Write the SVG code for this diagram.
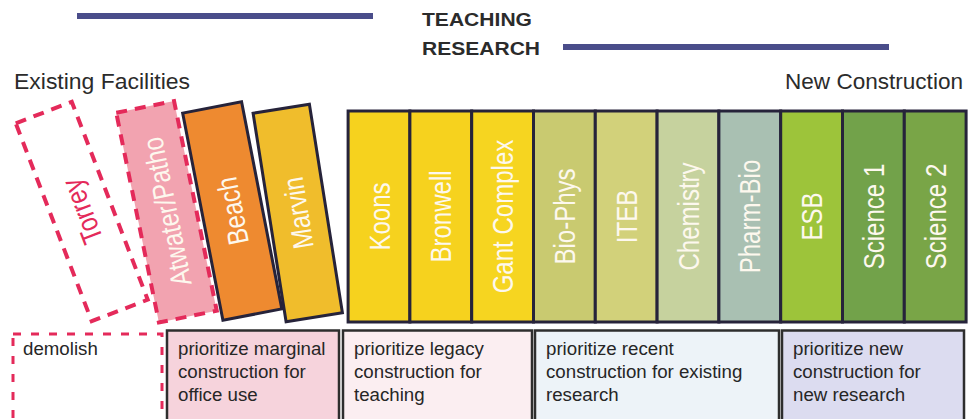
<svg xmlns="http://www.w3.org/2000/svg" width="973" height="419" viewBox="0 0 973 419">
  <style>
    .head { font-family: "Liberation Sans", Arial, sans-serif; font-weight: bold; font-size: 19px; fill: #2b2b2b; }
    .side { font-family: "Liberation Sans", Arial, sans-serif; font-size: 22px; fill: #2b2b2b; }
    .bar { fill: #4a4d8a; }
    .bld { stroke: #26233a; stroke-width: 3; }
    .lbl { font-family: "Liberation Sans", Arial, sans-serif; font-size: 29px; fill: #fdf8ee; text-anchor: middle; }
    .dash { fill: none; stroke: #e42a5a; stroke-width: 4; stroke-dasharray: 11 8; }
    .note { stroke: #2e2e2e; stroke-width: 2.5; }
    .ntxt { font-family: "Liberation Sans", Arial, sans-serif; font-size: 18.7px; fill: #262626; }
  </style>

  <rect width="973" height="419" fill="#ffffff"/>

  <!-- legend: teaching / research bars -->
  <g id="legend">
    <rect class="bar" x="77" y="13" width="296" height="6"/>
    <text class="head" x="422" y="26" textLength="110" lengthAdjust="spacingAndGlyphs">TEACHING</text>
    <text class="head" x="422" y="55" textLength="118" lengthAdjust="spacingAndGlyphs">RESEARCH</text>
    <rect class="bar" x="563" y="44" width="326" height="6"/>
  </g>

  <text class="side" x="14" y="89" textLength="176" lengthAdjust="spacingAndGlyphs">Existing Facilities</text>
  <text class="side" x="785" y="89" textLength="178" lengthAdjust="spacingAndGlyphs">New Construction</text>

  <!-- existing facilities, tilted -->
  <g id="torrey" transform="translate(81.75,211.5) rotate(-21)">
    <rect class="dash" x="-30" y="-106" width="60" height="212"/>
    <text class="lbl" transform="rotate(-90) scale(0.83,1)" y="10.5" style="fill:#e42a5a">Torrey</text>
  </g>
  <g id="atwater" transform="translate(166.5,211.75) rotate(-11.5)">
    <rect x="-29.5" y="-107" width="59" height="214" fill="#f2a3b0"/>
    <rect class="dash" x="-29.5" y="-107" width="59" height="214"/>
    <text class="lbl" transform="rotate(-90) scale(0.83,1)" y="10.5">Atwater/Patho</text>
  </g>
  <g id="beach" transform="translate(232.25,211) rotate(-11)">
    <rect class="bld" x="-30" y="-105.5" width="60" height="211" fill="#ee8a30"/>
    <text class="lbl" transform="rotate(-90) scale(0.83,1)" y="10.5">Beach</text>
  </g>
  <g id="marvin" transform="translate(297.75,213) rotate(-9)">
    <rect class="bld" x="-28.5" y="-105.5" width="57" height="211" fill="#f0bd2c"/>
    <text class="lbl" transform="rotate(-90) scale(0.83,1)" y="10.5">Marvin</text>
  </g>

  <!-- upright buildings -->
  <g id="koons" transform="translate(379,216.5)">
    <rect class="bld" x="-30.9" y="-105.5" width="61.8" height="211" fill="#f6d21e"/>
    <text class="lbl" transform="rotate(-90) scale(0.83,1)" y="10.5">Koons</text>
  </g>
  <g id="bronwell" transform="translate(440.8,216.5)">
    <rect class="bld" x="-30.9" y="-105.5" width="61.8" height="211" fill="#f6d21e"/>
    <text class="lbl" transform="rotate(-90) scale(0.83,1)" y="10.5">Bronwell</text>
  </g>
  <g id="gant" transform="translate(502.6,216.5)">
    <rect class="bld" x="-30.9" y="-105.5" width="61.8" height="211" fill="#f6d520"/>
    <text class="lbl" transform="rotate(-90) scale(0.83,1)" y="10.5">Gant Complex</text>
  </g>
  <g id="biophys" transform="translate(564.4,216.5)">
    <rect class="bld" x="-30.9" y="-105.5" width="61.8" height="211" fill="#c9ca70"/>
    <text class="lbl" transform="rotate(-90) scale(0.83,1)" y="10.5">Bio-Phys</text>
  </g>
  <g id="iteb" transform="translate(626.2,216.5)">
    <rect class="bld" x="-30.9" y="-105.5" width="61.8" height="211" fill="#d2d17a"/>
    <text class="lbl" transform="rotate(-90) scale(0.83,1)" y="10.5">ITEB</text>
  </g>
  <g id="chemistry" transform="translate(688,216.5)">
    <rect class="bld" x="-30.9" y="-105.5" width="61.8" height="211" fill="#c6d29e"/>
    <text class="lbl" transform="rotate(-90) scale(0.83,1)" y="10.5">Chemistry</text>
  </g>
  <g id="pharmbio" transform="translate(749.8,216.5)">
    <rect class="bld" x="-30.9" y="-105.5" width="61.8" height="211" fill="#a9c0b2"/>
    <text class="lbl" transform="rotate(-90) scale(0.83,1)" y="10.5">Pharm-Bio</text>
  </g>
  <g id="esb" transform="translate(811.6,216.5)">
    <rect class="bld" x="-30.9" y="-105.5" width="61.8" height="211" fill="#9dc43a"/>
    <text class="lbl" transform="rotate(-90) scale(0.83,1)" y="10.5">ESB</text>
  </g>
  <g id="science1" transform="translate(873.4,216.5)">
    <rect class="bld" x="-30.9" y="-105.5" width="61.8" height="211" fill="#72a24a"/>
    <text class="lbl" transform="rotate(-90) scale(0.83,1)" y="10.5">Science 1</text>
  </g>
  <g id="science2" transform="translate(935.2,216.5)">
    <rect class="bld" x="-30.9" y="-105.5" width="61.8" height="211" fill="#79a547"/>
    <text class="lbl" transform="rotate(-90) scale(0.83,1)" y="10.5">Science 2</text>
  </g>

  <!-- strategy notes along the bottom -->
  <g id="note-demolish">
    <rect x="13" y="334" width="149" height="100" fill="none" stroke="#e42a5a" stroke-width="3" stroke-dasharray="8 10"/>
    <text class="ntxt" x="23" y="355">demolish</text>
  </g>
  <g id="note-office">
    <rect class="note" x="167" y="330.5" width="172" height="100" fill="#f6d3dc"/>
    <text class="ntxt" x="178" y="355">prioritize marginal</text>
    <text class="ntxt" x="178" y="378">construction for</text>
    <text class="ntxt" x="178" y="401">office use</text>
  </g>
  <g id="note-teaching">
    <rect class="note" x="343" y="330.5" width="189" height="100" fill="#fbeef1"/>
    <text class="ntxt" x="354" y="355">prioritize legacy</text>
    <text class="ntxt" x="354" y="378">construction for</text>
    <text class="ntxt" x="354" y="401">teaching</text>
  </g>
  <g id="note-research">
    <rect class="note" x="535" y="330.5" width="244" height="100" fill="#edf3f8"/>
    <text class="ntxt" x="546" y="355">prioritize recent</text>
    <text class="ntxt" x="546" y="378">construction for existing</text>
    <text class="ntxt" x="546" y="401">research</text>
  </g>
  <g id="note-new">
    <rect class="note" x="782" y="330.5" width="182" height="100" fill="#dcdcf0"/>
    <text class="ntxt" x="793" y="355">prioritize new</text>
    <text class="ntxt" x="793" y="378">construction for</text>
    <text class="ntxt" x="793" y="401">new research</text>
  </g>

  <g id="connectors"/>
</svg>
